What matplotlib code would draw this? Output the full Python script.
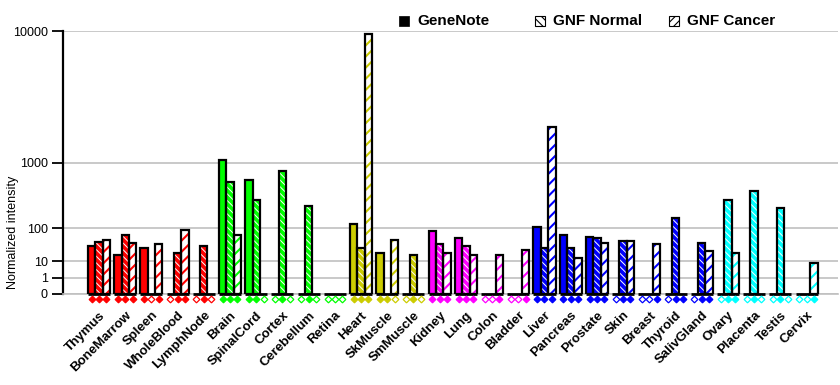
import numpy as np
import matplotlib
matplotlib.use("Agg")
import matplotlib.pyplot as plt
from matplotlib.patches import Rectangle
from matplotlib.transforms import blended_transform_factory

plt.rcParams['font.family'] = ['Liberation Sans', 'DejaVu Sans']

tissues = ["Thymus", "BoneMarrow", "Spleen", "WholeBlood", "LymphNode",
           "Brain", "SpinalCord", "Cortex", "Cerebellum", "Retina",
           "Heart", "SkMuscle", "SmMuscle",
           "Kidney", "Lung", "Colon", "Bladder",
           "Liver", "Pancreas", "Prostate", "Skin", "Breast", "Thyroid", "SalivGland",
           "Ovary", "Placenta", "Testis", "Cervix"]

genenote = [34, 17, 31, 0, 0, 1070, 630, 0, 0, 0, 126, 20, 0, 86, 57, 0, 0,
            109, 71, 64, 0, 0, 0, 0, 0, 0, 0, 0]
gnf_normal = [47, 71, 0, 21, 36, 595, 333, 810, 268, 0, 30, 0, 17, 41, 34, 0, 0,
              30, 31, 60, 50, 0, 165, 44, 333, 450, 248, 0]
gnf_cancer = [51, 44, 39, 93, 0, 71, 0, 0, 0, 0, 9600, 51, 0, 21, 17, 18, 26,
              2200, 14, 44, 50, 39, 0, 25, 21, 0, 0, 8.6]

# filled diamond = sample present
genenote_on = [1, 1, 1, 0, 0, 1, 1, 0, 0, 0, 1, 1, 0, 1, 1, 0, 0, 1, 1, 1, 0, 0, 0, 0, 0, 0, 0, 0]
normal_on = [1, 1, 0, 1, 1, 1, 1, 1, 1, 0, 1, 1, 1, 1, 1, 0, 0, 1, 1, 1, 1, 0, 1, 1, 1, 1, 1, 0]
cancer_on = [1, 1, 1, 1, 0, 1, 0, 0, 0, 0, 1, 0, 0, 1, 1, 1, 1, 1, 1, 1, 1, 1, 1, 1, 1, 0, 0, 1]

group_colors = (["#ff0000"] * 5 + ["#00ff00"] * 5 + ["#cccc00"] * 3 +
                ["#ff00ff"] * 4 + ["#0000ff"] * 7 + ["#00ffff"] * 4)

P = np.log10(2)


def fwd(v):
    v = np.asarray(v, dtype=float)
    return np.sign(v) * np.abs(v) ** P


def inv(v):
    v = np.asarray(v, dtype=float)
    return np.sign(v) * np.abs(v) ** (1 / P)


W, H = 840, 385
fig = plt.figure(figsize=(W / 100, H / 100), dpi=100)
ax = fig.add_axes([63 / W, 91 / H, 775 / W, 263 / H])
ax.set_yscale('function', functions=(fwd, inv))
ax.set_ylim(0, 10000)
ax.set_xlim(-1.374, 28.2)

x = np.arange(len(tissues))
bw = 0.28
series = [(genenote, genenote_on, -bw), (gnf_normal, normal_on, 0), (gnf_cancer, cancer_on, bw)]

for i, c in enumerate(group_colors):
    for k, (vals, on, off) in enumerate(series):
        v = vals[i]
        if v > 0:
            if k == 0:
                ax.bar(x[i] + off, v, bw, color=c, lw=0, zorder=3)
            elif k == 1:
                with plt.rc_context({'hatch.linewidth': 0.7}):
                    ax.bar(x[i] + off, v, bw, facecolor=c, edgecolor='white',
                           hatch='\\\\\\\\\\', lw=0, zorder=3)
            else:
                with plt.rc_context({'hatch.linewidth': 1.5}):
                    ax.bar(x[i] + off, v, bw, facecolor='white', edgecolor=c,
                           hatch='///', lw=0, zorder=3)
            ax.bar(x[i] + off, v, bw, facecolor='none', edgecolor='black', lw=1.6, zorder=4)

ax.hlines([0] * len(x), x - 0.42, x + 0.42, color='black', lw=2,
          zorder=5, clip_on=False)

# presence diamonds under the axis
tr = blended_transform_factory(ax.transData, ax.transAxes)
for i, c in enumerate(group_colors):
    for vals, on, off in series:
        ax.plot(x[i] + off, -0.019, marker='D', ms=3.4, mew=0.9,
                mec=c, mfc=c if on[i] else 'white',
                transform=tr, clip_on=False, zorder=6)

ax.set_yticks([0, 1, 10, 100, 1000, 10000])
ax.set_yticklabels(["0", "1", "10", "100", "1000", "10000"], fontsize=9)
ax.yaxis.grid(True, color='#c0c0c0', lw=1.2)
ax.set_axisbelow(True)
ax.tick_params(axis='y', length=8, width=1.3, pad=3)
ax.tick_params(axis='x', length=0, pad=11)
ax.set_xticks(x)
ax.set_xticklabels(tissues, rotation=45, ha='right', va='top', rotation_mode='anchor',
                   fontsize=9.5, fontweight='bold')
for s in ['top', 'right']:
    ax.spines[s].set_visible(False)
ax.spines['left'].set_linewidth(1.6)
ax.spines['bottom'].set_color('#c0c0c0')
ax.spines['bottom'].set_linewidth(1.2)

fig.text(13 / W, 1 - 232 / H, "Normalized intensity", rotation=90, ha='center', va='center',
         fontsize=9)

# legend
legend = [("GeneNote", 399, None), ("GNF Normal", 535, '\\\\\\\\'), ("GNF Cancer", 669, '////')]
for label, px, hatch in legend:
    if hatch is None:
        r = Rectangle((px / W, 1 - 26 / H), 10 / W, 10 / H, transform=fig.transFigure,
                      facecolor='black', edgecolor='black', lw=0.5)
    else:
        with plt.rc_context({'hatch.linewidth': 0.8}):
            r = Rectangle((px / W, 1 - 26 / H), 10 / W, 10 / H, transform=fig.transFigure,
                          facecolor='white', edgecolor='black', hatch=hatch, lw=0.8)
    fig.patches.append(r)
    fig.text((px + 18) / W, 1 - 21 / H, label, fontsize=11, fontweight='bold',
             ha='left', va='center')

fig.savefig("out.png", dpi=100)
